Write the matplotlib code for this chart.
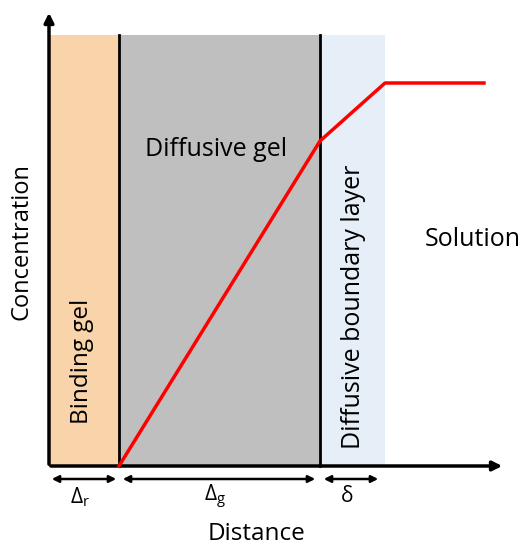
import matplotlib.pyplot as plt
from matplotlib.patches import Rectangle

# layer boundaries along distance axis
layer_names = ["Binding gel", "Diffusive gel", "Diffusive boundary layer"]
layer_edges = [0, 70, 271, 336]
layer_colors = ["#f9d3a9", "#bfbfbf", "#e6eef8"]
layer_top = 431

# concentration profile
dist = [70, 271, 336, 435]
conc = [0, 325, 383, 383]

dim_labels = ["$\\Delta_\\mathrm{r}$", "$\\Delta_\\mathrm{g}$", "$\\delta$"]

plt.rcParams['font.family'] = ['Open Sans', 'DejaVu Sans']
plt.rcParams['mathtext.fontset'] = 'custom'
plt.rcParams['mathtext.rm'] = 'Open Sans'
plt.rcParams['mathtext.it'] = 'Open Sans'

fig = plt.figure(figsize=(5.26, 5.54), dpi=100)
ax = fig.add_axes([0, 0, 1, 1])
ax.set_xlim(-49, 477)
ax.set_ylim(-88, 466)
ax.axis('off')

# shaded layers
for i in range(3):
    ax.add_patch(Rectangle((layer_edges[i], 0), layer_edges[i+1] - layer_edges[i], layer_top,
                           facecolor=layer_colors[i], edgecolor='none', zorder=1))
for x in layer_edges[1:3]:
    ax.plot([x, x], [0, layer_top], color='black', lw=2, zorder=2)

# axes arrows
ax.annotate('', xy=(0, 456), xytext=(0, -1),
            arrowprops=dict(arrowstyle='-|>', lw=2.5, color='black', mutation_scale=14), zorder=3)
ax.annotate('', xy=(456, 0), xytext=(-1, 0),
            arrowprops=dict(arrowstyle='-|>', lw=2.5, color='black', mutation_scale=14), zorder=3)

# profile
ax.plot(dist, conc, color='red', lw=2.5, zorder=4)

# dimension arrows
spans = [(0, 70), (71, 269), (272, 332)]
for (a, b), lab in zip(spans, dim_labels):
    ax.annotate('', xy=(a, -13), xytext=(b, -13),
                arrowprops=dict(arrowstyle='<|-|>', lw=1.8, color='black', mutation_scale=10))
    ax.text((a + b) / 2 - 4, -31, lab, ha='center', va='center', fontsize=15)

# text labels
ax.text(33, 105, layer_names[0], rotation=90, ha='center', va='center', fontsize=17.5)
ax.text(167, 316, layer_names[1], ha='center', va='center', fontsize=18)
ax.text(304, 159, layer_names[2], rotation=90, ha='center', va='center', fontsize=18)
ax.text(376, 226, "Solution", ha='left', va='center', fontsize=18)
ax.text(-27, 224, "Concentration", rotation=90, ha='center', va='center', fontsize=17)
ax.text(208, -68, "Distance", ha='center', va='center', fontsize=17.5)

fig.savefig("out.png", dpi=100)
